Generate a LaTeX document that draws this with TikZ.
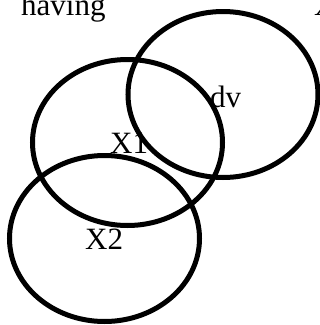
\documentclass[tikz,border=0pt]{standalone}
\usepackage{fontspec}
\setmainfont{Liberation Serif}
\usetikzlibrary{shapes.geometric}
\begin{document}
\begin{tikzpicture}[x=1pt,y=-1pt,
  ring/.style={draw=black, line width=5pt, ellipse, inner sep=0pt,
    minimum width=190pt, minimum height=166pt},
  lbl/.style={anchor=base west, inner sep=0pt, font=\fontsize{31}{36}\selectfont}]
\useasboundingbox (0,0) rectangle (320,325);
\node[ring] (dvring) at (223,94.5) {};
\node[ring] (x1ring) at (127.5,142.5) {};
\node[ring] (x2ring) at (104.5,238.5) {};
\node[lbl] (having) at (21,15) {having};
\node[lbl] (xtop) at (314,15) {X};
\node[lbl] (dv) at (210,107) {dv};
\node[lbl] (x1) at (110,153) {X1};
\node[lbl] (x2) at (85,249) {X2};
\end{tikzpicture}
\end{document}
